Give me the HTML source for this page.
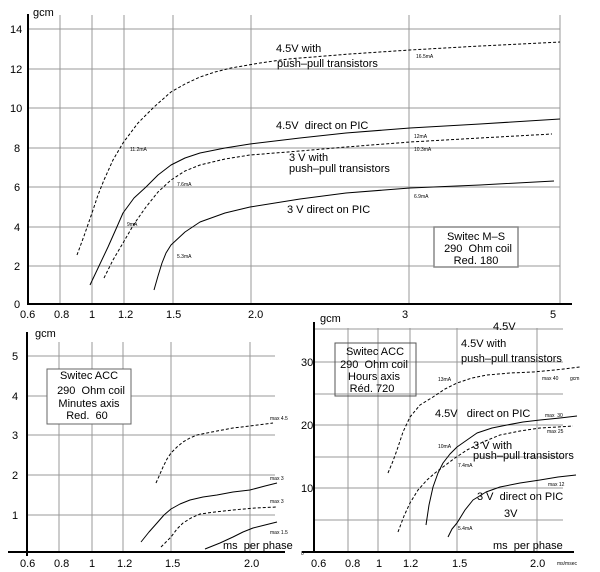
<!DOCTYPE html>
<html><head><meta charset="utf-8"><style>
html,body{margin:0;padding:0;background:#fff;}
svg{display:block;font-family:"Liberation Sans",sans-serif;}
.g{stroke:#999;stroke-width:1;fill:none}
.ax{stroke:#000;stroke-width:2;fill:none}
.s{stroke:#000;stroke-width:1;fill:none;stroke-linejoin:round}
.d{stroke:#000;stroke-width:1;fill:none;stroke-dasharray:3,2;stroke-linejoin:round}
.t{font-size:11px;fill:#000}
.m{font-size:5px;fill:#000}
</style></head><body>
<svg width="600" height="572" viewBox="0 0 600 572" xmlns="http://www.w3.org/2000/svg">
<!-- TOP CHART -->
<g class="g">
<path d="M60 15V305M92 15V305M124 15V305M173 15V305M251 15V305M409 15V305M560 15V305"/>
<path d="M28 29H560M28 69H560M28 108H560M28 148H560M28 187H560M28 227H560M28 266H560"/>
</g>
<path class="ax" d="M28 14V304H572"/>
<g class="t">
<text x="33" y="16">gcm</text>
<text x="10" y="33">14</text><text x="10" y="73">12</text><text x="10" y="112">10</text>
<text x="14" y="152">8</text><text x="14" y="191">6</text><text x="14" y="231">4</text>
<text x="14" y="270">2</text><text x="14" y="308">0</text>
<text x="20" y="318">0.6</text><text x="54" y="318">0.8</text><text x="89" y="318">1</text>
<text x="118" y="318">1.2</text><text x="166" y="318">1.5</text><text x="248" y="318">2.0</text>
<text x="402" y="318">3</text><text x="550" y="318">5</text>
</g>
<polyline class="d" points="77,255 84,236 92,213 98,195 104,180 113,160 123,143 138,123 154,107 171,92 185,84 200,77 215,72 231,68 260,63 288,59 350,54 410,50 480,46 560,42"/>
<polyline class="s" points="90,285 99,266 108,247 116,229 123,213 134,198 146,187 158,175 171,165 185,158 200,153 225,148 250,144 300,138 346,133 410,128 480,124 560,119"/>
<polyline class="d" points="104,278 113,260 123,243 134,224 146,207 158,192 171,180 185,171 200,165 225,159 250,155 300,151 346,147 410,142 480,138 552,134"/>
<polyline class="s" points="154,290 158,276 162,263 166,253 171,245 185,232 200,222 225,213 250,207 300,199 346,193 410,188 480,185 554,181"/>
<g class="t">
<text x="276" y="52">4.5V with</text><text x="277" y="67">push–pull transistors</text>
<text x="276" y="129">4.5V&#160;&#160;direct on PIC</text>
<text x="289" y="161">3 V with</text><text x="289" y="172">push–pull transistors</text>
<text x="287" y="213">3 V direct on PIC</text>
</g>
<g class="m">
<text x="416" y="58">16.5mA</text><text x="130" y="151">11.2mA</text>
<text x="414" y="138">12mA</text><text x="414" y="151">10.3mA</text>
<text x="177" y="186">7.6mA</text><text x="127" y="226">9mA</text>
<text x="414" y="198">6.9mA</text><text x="177" y="258">5.3mA</text>
</g>
<rect x="434" y="227" width="84" height="40" fill="#fff" stroke="#888" stroke-width="1.5"/>
<g class="t" text-anchor="middle">
<text x="476" y="240">Switec M–S</text><text x="478" y="252">290&#160;&#160;Ohm coil</text><text x="476" y="264">Red. 180</text>
</g>

<!-- BOTTOM LEFT -->
<g class="g">
<path d="M59 342V553M92 342V553M123 342V553M171 342V553M250 342V553"/>
<path d="M27 356H275M27 396H275M27 435H275M27 475H275M27 515H275"/>
</g>
<path class="ax" d="M27 332V556M8 552H285"/>
<g class="t">
<text x="35" y="337">gcm</text>
<text x="12" y="360">5</text><text x="12" y="400">4</text><text x="12" y="439">3</text>
<text x="12" y="479">2</text><text x="12" y="519">1</text>
<text x="20" y="567">0.6</text><text x="54" y="567">0.8</text><text x="89" y="567">1</text>
<text x="117" y="567">1.2</text><text x="165" y="567">1.5</text><text x="244" y="567">2.0</text>
<text x="223" y="549">ms&#160;&#160;per phase</text>
</g>
<polyline class="d" points="156,483 160,474 163,467 167,459 171,453 177,447 183,442 190,438 197,435 207,433 217,431 233,428 250,426 273,423"/>
<polyline class="s" points="141,542 149,532 157,523 164,515 171,509 180,504 190,500 203,497 217,495 233,492 250,490 265,486 277,483"/>
<polyline class="d" points="161,547 166,542 171,537 177,529 183,523 191,518 200,514 215,512 233,510 255,508 277,507"/>
<polyline class="s" points="205,549 220,543 233,537 243,532 253,528 265,525 277,522"/>
<g class="m">
<text x="270" y="420">max 4.5</text><text x="270" y="480">max 3</text>
<text x="270" y="503">max 3</text><text x="270" y="534">max 1.5</text>
</g>
<rect x="47" y="369" width="84" height="55" fill="#fff" stroke="#666" stroke-width="1"/>
<g class="t" text-anchor="middle">
<text x="89" y="379">Switec ACC</text><text x="91" y="394">290&#160;&#160;Ohm coil</text>
<text x="89" y="407">Minutes axis</text><text x="87" y="419">Red.&#160;&#160;60</text>
</g>

<!-- BOTTOM RIGHT -->
<g class="g">
<path d="M348 328V553M378 328V553M410 328V553M457 328V553M537 328V553"/>
<path d="M314 329H563M314 362H563M314 394H563M314 425H563M314 457H563M314 488H563M314 520H563"/>
</g>
<path class="ax" d="M314 322V553M302 552H574"/>
<g class="t">
<text x="320" y="322">gcm</text>
<text x="301" y="366">30</text><text x="301" y="429">20</text><text x="301" y="492">10</text>
<text x="311" y="567">0.6</text><text x="345" y="567">0.8</text><text x="376" y="567">1</text>
<text x="403" y="567">1.2</text><text x="452" y="567">1.5</text><text x="530" y="567">2.0</text>
<text x="493" y="330">4.5V</text>
<text x="461" y="347">4.5V with</text><text x="461" y="362">push–pull transistors</text>
<text x="435" y="417">4.5V&#160;&#160;&#160;direct on PIC</text>
<text x="473" y="449">3 V with</text><text x="473" y="459">push–pull transistors</text>
<text x="477" y="500">3 V&#160;&#160;direct on PIC</text>
<text x="504" y="517">3V</text>
<text x="493" y="549">ms&#160;&#160;per phase</text>
</g>
<text x="301" y="555" class="m">0</text>
<text x="557" y="565" class="m">ms/msec</text>
<polyline class="d" points="388,473 393,461 397,450 403,432 410,417 420,405 433,397 445,389 457,383 472,378 487,375 510,373 533,372 555,370 580,367"/>
<polyline class="s" points="426,525 429,505 433,487 438,473 443,463 450,454 457,447 467,440 477,433 492,428 507,425 523,422 540,420 560,418 577,416"/>
<polyline class="d" points="398,532 404,516 410,503 418,490 427,480 435,473 443,467 455,458 467,450 483,442 500,435 520,431 540,428 557,427 573,426"/>
<polyline class="s" points="448,537 452,529 457,523 465,510 473,500 486,492 500,487 520,483 540,480 558,477 576,475"/>
<g class="m">
<text x="438" y="381">13mA</text><text x="542" y="380">max 40</text><text x="570" y="380">gcm</text>
<text x="545" y="417">max&#160;&#160;30</text><text x="547" y="433">max 25</text>
<text x="438" y="448">10mA</text><text x="458" y="467">7.4mA</text>
<text x="548" y="486">max 12</text><text x="458" y="530">5.4mA</text>
</g>
<rect x="335" y="343" width="81" height="53" fill="none" stroke="#555" stroke-width="1"/>
<g class="t" text-anchor="middle">
<text x="375" y="355">Switec ACC</text><text x="374" y="368">290&#160;&#160;Ohm coil</text>
<text x="374" y="380">Hours axis</text><text x="372" y="392">Réd. 720</text>
</g>
</svg>
</body></html>
